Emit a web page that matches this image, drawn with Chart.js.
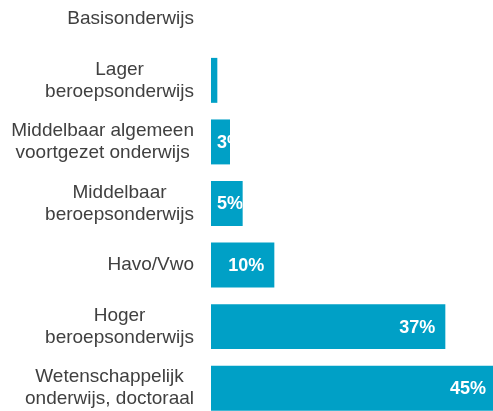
<!DOCTYPE html>
<html>
<head>
<meta charset="utf-8">
<script src="https://cdn.jsdelivr.net/npm/chart.js@4.4.1/dist/chart.umd.min.js"></script>
<style>
  html, body { margin: 0; padding: 0; background: #fff; overflow: hidden; width: 493px; height: 411px; }
  #wrap { position: absolute; left: 0; top: -12px; width: 496px; height: 431px; }
</style>
</head>
<body>
<div id="wrap"><canvas id="chart"></canvas></div>
<script>
  // education levels, one array entry per text line
  const categories = [
    ['Basisonderwijs'],
    ['Lager', 'beroepsonderwijs'],
    ['Middelbaar algemeen', 'voortgezet onderwijs'],
    ['Middelbaar', 'beroepsonderwijs'],
    ['Havo/Vwo'],
    ['Hoger', 'beroepsonderwijs'],
    ['Wetenschappelijk', 'onderwijs, doctoraal']
  ];
  const shares = [0, 1, 3, 5, 10, 37, 45];

  const FONT = '"Liberation Sans", Arial, sans-serif';
  const BAR = '#00a0c6';
  const TEXT = '#404040';

  // category names: block right-aligned, lines centred on each other
  const categoryLabels = {
    id: 'categoryLabels',
    afterDraw(chart) {
      const ctx = chart.ctx;
      const y = chart.scales.y;
      ctx.save();
      ctx.font = '19px ' + FONT;
      ctx.fillStyle = TEXT;
      ctx.textAlign = 'center';
      ctx.textBaseline = 'middle';
      const lh = 22;
      const right = y.right - 17;
      categories.forEach((lines, i) => {
        const cy = y.getPixelForTick(i);
        const w = Math.max(...lines.map(l => ctx.measureText(l).width));
        const cx = right - w / 2;
        const top = cy - (lines.length - 1) * lh / 2;
        lines.forEach((l, k) => ctx.fillText(l, cx, top + k * lh));
      });
      ctx.restore();
    }
  };

  // percentage inside the bar end, clipped to the bar
  const valueLabels = {
    id: 'valueLabels',
    afterDatasetsDraw(chart) {
      const ctx = chart.ctx;
      const meta = chart.getDatasetMeta(0);
      ctx.save();
      ctx.font = 'bold 18px ' + FONT;
      ctx.fillStyle = '#fff';
      ctx.textAlign = 'left';
      ctx.textBaseline = 'middle';
      meta.data.forEach((bar, i) => {
        const { x, y, base, height } = bar.getProps(['x', 'y', 'base', 'height'], true);
        if (x - base <= 0) return;
        const txt = shares[i] + '%';
        const w = ctx.measureText(txt).width;
        const tx = Math.max(x - 10 - w, base + 6);
        ctx.save();
        ctx.beginPath();
        ctx.rect(base, y - height / 2, x - base, height);
        ctx.clip();
        ctx.fillText(txt, tx, y + 1);
        ctx.restore();
      });
      ctx.restore();
    }
  };

  new Chart(document.getElementById('chart'), {
    type: 'bar',
    data: {
      labels: categories,
      datasets: [{
        data: shares,
        backgroundColor: BAR,
        borderWidth: 0,
        barPercentage: 0.73,
        categoryPercentage: 1
      }]
    },
    options: {
      indexAxis: 'y',
      responsive: true,
      maintainAspectRatio: false,
      animation: false,
      layout: { padding: 0 },
      plugins: { legend: { display: false }, tooltip: { enabled: false } },
      scales: {
        x: { display: false, min: 0, max: 45 },
        y: {
          grid: { display: false, drawTicks: false },
          border: { display: false },
          ticks: { display: false },
          afterFit(scale) { scale.width = 211; }
        }
      }
    },
    plugins: [categoryLabels, valueLabels]
  });
</script>
</body>
</html>
